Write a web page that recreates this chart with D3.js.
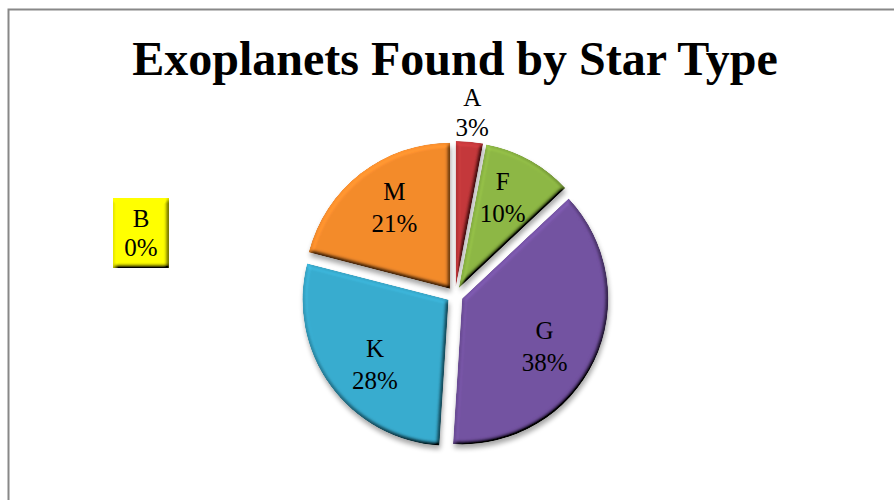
<!DOCTYPE html>
<html>
<head>
<meta charset="utf-8">
<script src="https://cdn.jsdelivr.net/npm/d3@7"></script>
<style>
  html, body { margin: 0; padding: 0; background: #fff; }
  svg { display: block; }
</style>
</head>
<body>
<svg id="chart" width="894" height="500"></svg>
<script>
// Star types, share of known exoplanets (%) and slice colours
const starTypes = ["B", "A", "F", "G", "K", "M"];
const shares = [0, 3, 10, 38, 28, 21];
const sliceColors = ["#FFFF00", "#C4383B", "#8DB744", "#7352A1", "#38ACCF", "#F38B2C"];
const chartTitle = "Exoplanets Found by Star Type";

const W = 894, H = 500;
const cx = 455, cy = 295, radius = 146, explode = 8;

const svg = d3.select("#chart");
const defs = svg.append("defs");

// Bevel: lighting computed from blurred alpha, multiplied onto the fill
const bevel = defs.append("filter").attr("id", "bevel")
  .attr("x", "-10%").attr("y", "-10%").attr("width", "120%").attr("height", "120%");
bevel.append("feGaussianBlur").attr("in", "SourceAlpha").attr("stdDeviation", 2.2).attr("result", "blur");
bevel.append("feDiffuseLighting").attr("in", "blur").attr("surfaceScale", 5)
  .attr("diffuseConstant", 1).attr("lighting-color", "#fff").attr("result", "light")
  .append("feDistantLight").attr("azimuth", 240).attr("elevation", 55);
bevel.append("feComposite").attr("in", "SourceGraphic").attr("in2", "light")
  .attr("operator", "arithmetic").attr("k1", 1.22).attr("k2", 0).attr("k3", 0).attr("k4", 0)
  .attr("result", "lit");
bevel.append("feComposite").attr("in", "lit").attr("in2", "SourceAlpha").attr("operator", "in");

const shadow = defs.append("filter").attr("id", "shadow")
  .attr("x", "-20%").attr("y", "-20%").attr("width", "140%").attr("height", "140%");
shadow.append("feGaussianBlur").attr("in", "SourceAlpha").attr("stdDeviation", 2.5).attr("result", "b");
shadow.append("feOffset").attr("in", "b").attr("dx", 1).attr("dy", 4).attr("result", "o");
shadow.append("feComponentTransfer").attr("in", "o").attr("result", "s")
  .append("feFuncA").attr("type", "linear").attr("slope", 0.35);
const sm = shadow.append("feMerge");
sm.append("feMergeNode").attr("in", "s");
sm.append("feMergeNode").attr("in", "SourceGraphic");

// Frame
svg.append("path")
  .attr("d", `M8.5,${H} V9.5 H${W}`)
  .attr("fill", "none").attr("stroke", "#888").attr("stroke-width", 2);

const font = "'Liberation Serif', 'Times New Roman', serif";

// Title
svg.append("text")
  .attr("x", 455).attr("y", 75)
  .attr("text-anchor", "middle")
  .attr("font-family", font)
  .attr("font-weight", "bold").attr("font-size", 48)
  .attr("fill", "#000")
  .text(chartTitle);

const data = starTypes.map((t, i) => ({ type: t, value: shares[i], color: sliceColors[i] }));

const pie = d3.pie().value(d => d.value).sort(null);
const arcs = pie(data);
const arc = d3.arc().innerRadius(0).outerRadius(radius);
const outerLabelArc = d3.arc().innerRadius(175).outerRadius(175);

// Inside labels sit on an ellipse around the pie centre (taller than wide)
const insideLabel = d => {
  const mid = (d.startAngle + d.endAngle) / 2;
  return [Math.sin(mid) * 99, -Math.cos(mid) * 114 + 3];
};

const offsetOf = d => {
  const mid = (d.startAngle + d.endAngle) / 2;
  return [Math.sin(mid) * explode, -Math.cos(mid) * explode];
};

const pieG = svg.append("g").attr("transform", `translate(${cx},${cy})`);

const slices = pieG.selectAll("g.slice")
  .data(arcs.filter(d => d.value > 0))
  .join("g")
  .attr("class", "slice")
  .attr("filter", "url(#shadow)")
  .attr("transform", d => `translate(${offsetOf(d)})`);

slices.append("path")
  .attr("d", arc)
  .attr("fill", d => d.data.color)
  .attr("filter", "url(#bevel)");

function twoLine(sel, x, y, a, b, gap) {
  sel.append("text").attr("x", x).attr("y", y - gap / 2 + 8)
    .attr("text-anchor", "middle").attr("font-family", font).attr("font-size", 25)
    .attr("fill", "#000").text(a);
  sel.append("text").attr("x", x).attr("y", y + gap / 2 + 8)
    .attr("text-anchor", "middle").attr("font-family", font).attr("font-size", 25)
    .attr("fill", "#000").text(b);
}

// Slice labels: small slices get their label outside the pie
arcs.filter(d => d.value > 0).forEach(d => {
  const small = d.value < 5;
  let lx, ly;
  if (small) {
    const [ox, oy] = offsetOf(d);
    [lx, ly] = outerLabelArc.centroid(d);
    lx += ox; ly += oy;
  } else {
    [lx, ly] = insideLabel(d);
  }
  twoLine(pieG, lx, ly, d.data.type, d.data.value + "%", small ? 30 : 32);
});

// Zero-share slice: label drawn in its own boxed callout
arcs.filter(d => d.value === 0).forEach(d => {
  const box = svg.append("g").attr("transform", "translate(113,198)");
  box.append("rect").attr("width", 56).attr("height", 70)
    .attr("fill", d.data.color).attr("filter", "url(#bevel)");
  twoLine(box, 28, 35, d.data.type, d.data.value + "%", 29);
});
</script>
</body>
</html>
